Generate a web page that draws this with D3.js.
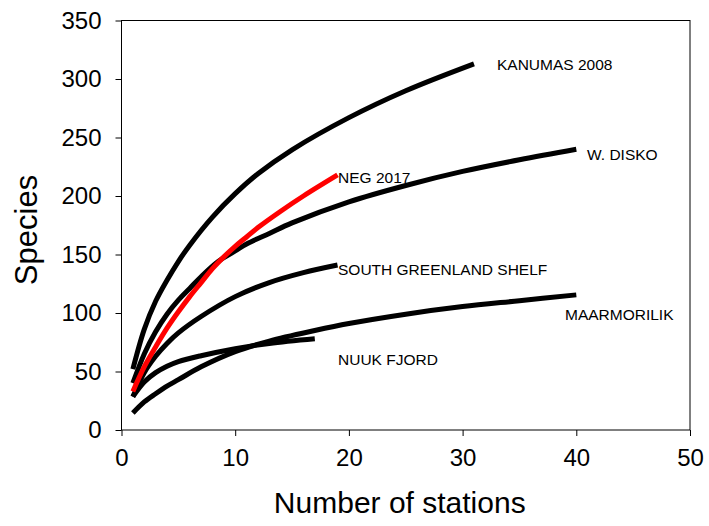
<!DOCTYPE html>
<html>
<head>
<meta charset="utf-8">
<script src="https://cdn.jsdelivr.net/npm/d3@7"></script>
<style>
  html, body { margin: 0; padding: 0; background: #fff; }
  svg { display: block; font-family: "Liberation Sans", Arial, sans-serif; }
</style>
</head>
<body>
<svg id="chart" width="709" height="526"></svg>
<script>
// ---- data ----
const xTicks = [0, 10, 20, 30, 40, 50];
const yTicks = [0, 50, 100, 150, 200, 250, 300, 350];

const kanumasX = [1, 2, 3, 4, 5, 6, 8, 10, 12, 15, 20, 25, 31];
const kanumasY = [52, 86, 110, 128, 144, 158, 182, 202, 219, 239.5, 267, 290, 313];

const diskoX = [1, 2, 3, 4, 5, 6, 7, 8.5, 10, 11, 13, 15, 20, 25, 30, 35, 40];
const diskoY = [40, 65, 84, 99, 111, 121, 131, 144, 153, 159, 168, 177, 195, 209, 221, 231, 240];

const negX = [1, 2, 3, 4, 5, 6, 7, 8, 9, 10, 11, 12, 14, 16, 19];
const negY = [33, 54, 71, 87, 101, 114, 126, 138, 148, 157, 165, 173, 187, 200, 218];

const sgsX = [1, 2, 3, 4, 5, 7, 10, 13, 16, 19];
const sgsY = [28.5, 49, 63, 74, 83, 97, 114, 126, 134.5, 141];

const maarX = [1, 2, 3, 4, 5, 7, 10, 13, 17, 20, 25, 30, 35, 40];
const maarY = [14.5, 24, 31, 37.5, 43, 54, 67, 76, 85, 91, 99, 105.5, 110.5, 115.5];

const nuukX = [1, 2, 3, 4, 5, 7, 10, 13, 17];
const nuukY = [28.5, 41, 49, 54.5, 58.5, 63.5, 69.5, 74, 78];

const seriesNames = ["KANUMAS 2008", "W. DISKO", "NEG 2017", "SOUTH GREENLAND SHELF", "MAARMORILIK", "NUUK FJORD"];
const seriesColors = ["#000000", "#000000", "#ff0000", "#000000", "#000000", "#000000"];

// ---- layout ----
const svg = d3.select("#chart");
const plotL = 121.5, plotR = 690, plotT = 20.5, plotB = 430;

const x = d3.scaleLinear().domain([0, 50]).range([plotL, plotR]);
const y = d3.scaleLinear().domain([0, 350]).range([plotB, plotT]);

const series = [
  { name: seriesNames[0], color: seriesColors[0], xs: kanumasX, ys: kanumasY, lx: 497, ly: 70 },
  { name: seriesNames[1], color: seriesColors[1], xs: diskoX, ys: diskoY, lx: 587, ly: 160 },
  { name: seriesNames[3], color: seriesColors[3], xs: sgsX, ys: sgsY, lx: 338, ly: 275 },
  { name: seriesNames[4], color: seriesColors[4], xs: maarX, ys: maarY, lx: 565, ly: 320 },
  { name: seriesNames[5], color: seriesColors[5], xs: nuukX, ys: nuukY, lx: 338, ly: 365 },
  { name: seriesNames[2], color: seriesColors[2], xs: negX, ys: negY, lx: 338, ly: 183 }
];

// frame
svg.append("rect")
  .attr("x", plotL).attr("y", plotT)
  .attr("width", plotR - plotL).attr("height", plotB - plotT)
  .attr("fill", "none").attr("stroke", "#000").attr("stroke-width", 1);

// axes
const xAxis = d3.axisBottom(x).tickValues(xTicks).tickSize(6).tickSizeOuter(0);
const yAxis = d3.axisLeft(y).tickValues(yTicks).tickSize(6).tickSizeOuter(0);

const gx = svg.append("g").attr("transform", `translate(0,${plotB})`).call(xAxis);
gx.select(".domain").remove();
gx.selectAll("line").attr("stroke", "#000");
gx.selectAll("text").attr("font-size", 24).attr("fill", "#000")
  .attr("font-family", "Liberation Sans, Arial, sans-serif").attr("dy", "0.71em").attr("y", 19);

const gy = svg.append("g").attr("transform", `translate(${plotL},0)`).call(yAxis);
gy.select(".domain").remove();
gy.selectAll("line").attr("stroke", "#000");
gy.selectAll("text").attr("font-size", 24).attr("fill", "#000")
  .attr("font-family", "Liberation Sans, Arial, sans-serif").attr("x", -20);

// axis titles
svg.append("text")
  .attr("x", (plotL + plotR) / 2 - 6).attr("y", 513)
  .attr("text-anchor", "middle").attr("font-size", 30).attr("fill", "#000")
  .text("Number of stations");

svg.append("text")
  .attr("transform", `translate(37,230) rotate(-90)`)
  .attr("text-anchor", "middle").attr("font-size", 31).attr("fill", "#000")
  .text("Species");

// curves
const line = d3.line()
  .x(d => x(d[0])).y(d => y(d[1]))
  .curve(d3.curveCatmullRom.alpha(0.5));

series.forEach(s => {
  const pts = s.xs.map((v, i) => [v, s.ys[i]]);
  svg.append("path")
    .datum(pts)
    .attr("d", line)
    .attr("fill", "none")
    .attr("stroke", s.color)
    .attr("stroke-width", 5);
});

// labels
series.forEach(s => {
  svg.append("text")
    .attr("x", s.lx).attr("y", s.ly)
    .attr("font-size", 15.5).attr("fill", "#000")
    .text(s.name);
});
</script>
</body>
</html>
